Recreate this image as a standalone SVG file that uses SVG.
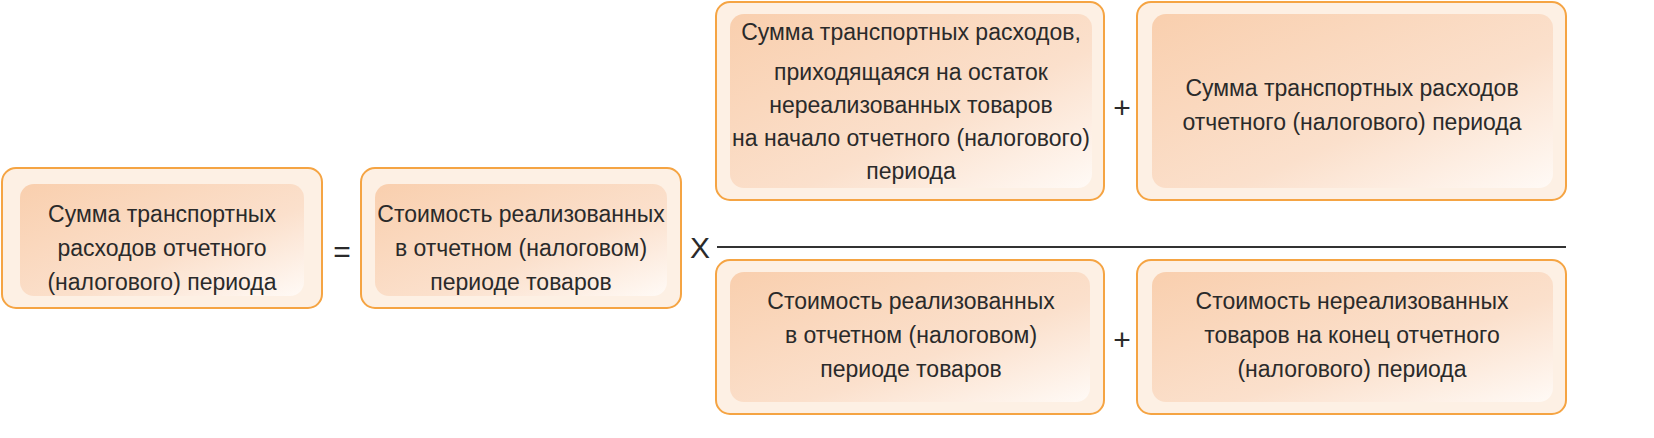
<svg xmlns="http://www.w3.org/2000/svg" width="1654" height="438" viewBox="0 0 1654 438">
<defs>
<linearGradient id="g" x1="0" y1="0" x2="1" y2="1">
<stop offset="0" stop-color="#f9cfae"/><stop offset="0.6" stop-color="#fbe0cc"/><stop offset="1" stop-color="#fffaf6"/>
</linearGradient>
<style>
.o{fill:#fdf0e4;stroke:#f5a443;stroke-width:2}
.i{fill:url(#g)}
text{font-family:"Liberation Sans",Arial,sans-serif;font-size:23px;fill:#2a2a2a;text-anchor:middle}
.s{font-size:30px}
</style>
</defs>
<g id="connectors">
<line x1="717" y1="247" x2="1566" y2="247" stroke="#333" stroke-width="2"/>
</g>
<g id="n1"><rect class="o" x="2" y="168" width="320" height="140" rx="14"/><rect class="i" x="20" y="184" width="284" height="112" rx="14"/>
<text x="162" y="222">Сумма транспортных</text><text x="162" y="256">расходов отчетного</text><text x="162" y="290">(налогового) периода</text></g>
<text class="s" x="342" y="262">=</text>
<g id="n2"><rect class="o" x="361" y="168" width="320" height="140" rx="14"/><rect class="i" x="375" y="184" width="292" height="112" rx="14"/>
<text x="521" y="222">Стоимость реализованных</text><text x="521" y="256">в отчетном (налоговом)</text><text x="521" y="290">периоде товаров</text></g>
<text class="s" x="700" y="258">X</text>
<g id="n3"><rect class="o" x="716" y="2" width="388" height="198" rx="14"/><rect class="i" x="730" y="14" width="362" height="174" rx="14"/>
<text x="911" y="40">Сумма транспортных расходов,</text><text x="911" y="80">приходящаяся на остаток</text><text x="911" y="113">нереализованных товаров</text><text x="911" y="146">на начало отчетного (налогового)</text><text x="911" y="179">периода</text></g>
<text class="s" x="1122" y="118">+</text>
<g id="n4"><rect class="o" x="1137" y="2" width="429" height="198" rx="14"/><rect class="i" x="1152" y="14" width="401" height="174" rx="14"/>
<text x="1352" y="96">Сумма транспортных расходов</text><text x="1352" y="130">отчетного (налогового) периода</text></g>
<g id="n5"><rect class="o" x="716" y="260" width="388" height="154" rx="14"/><rect class="i" x="730" y="272" width="360" height="130" rx="14"/>
<text x="911" y="309">Стоимость реализованных</text><text x="911" y="343">в отчетном (налоговом)</text><text x="911" y="377">периоде товаров</text></g>
<text class="s" x="1122" y="350">+</text>
<g id="n6"><rect class="o" x="1137" y="260" width="429" height="154" rx="14"/><rect class="i" x="1152" y="272" width="401" height="130" rx="14"/>
<text x="1352" y="309">Стоимость нереализованных</text><text x="1352" y="343">товаров на конец отчетного</text><text x="1352" y="377">(налогового) периода</text></g>
</svg>
